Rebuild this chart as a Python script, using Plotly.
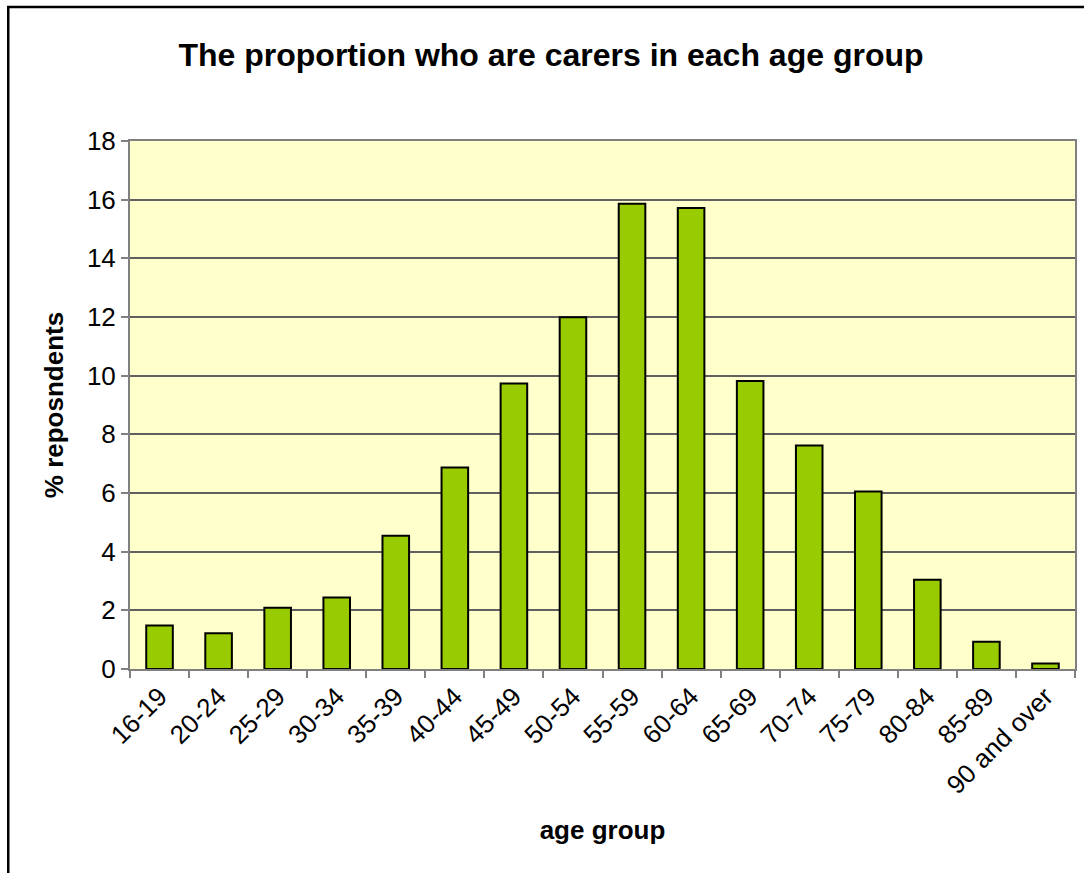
import plotly.graph_objects as go

age_groups = ["16-19", "20-24", "25-29", "30-34", "35-39", "40-44", "45-49", "50-54",
              "55-59", "60-64", "65-69", "70-74", "75-79", "80-84", "85-89", "90 and over"]
pct_respondents = [1.48, 1.22, 2.09, 2.44, 4.54, 6.87, 9.73, 11.99,
                   15.86, 15.72, 9.82, 7.62, 6.05, 3.04, 0.93, 0.19]
y_ticks = [0, 2, 4, 6, 8, 10, 12, 14, 16, 18]

W, H = 1084, 873
L, R, T, B = 130, 7, 141, 204
pw, ph = W - L - R, H - T - B

fig = go.Figure()
fig.add_trace(go.Bar(
    x=age_groups, y=pct_respondents,
    marker=dict(color="#99CC00", line=dict(color="#000000", width=2)),
))

font = "Liberation Sans, Arial, sans-serif"
fig.update_layout(
    width=W, height=H,
    margin=dict(l=L, r=R, t=T, b=B),
    paper_bgcolor="white",
    plot_bgcolor="#FFFFCC",
    bargap=0.55,
    showlegend=False,
    font=dict(family=font, color="#000000", size=24),
    title=dict(text="<b>The proportion who are carers in each age group</b>",
               x=551 / W, xanchor="center", y=1 - 55 / H, yanchor="middle",
               xref="container", yref="container",
               font=dict(family=font, size=32, color="#000000")),
)
fig.update_xaxes(
    type="category", tickson="boundaries", ticks="outside", ticklen=7,
    tickcolor="#808080", tickwidth=2, tickangle=-45,
    showgrid=False, showline=True, linecolor="#808080", linewidth=2, mirror=True,
    tickfont=dict(size=26),
    title=dict(text="<b>age group</b>", font=dict(size=26), standoff=22),
)
fig.update_yaxes(
    range=[0, 18], tickvals=y_ticks, ticks="outside", ticklen=7,
    tickcolor="#808080", tickwidth=2,
    showgrid=True, gridcolor="#606060", gridwidth=1.5,
    showline=True, linecolor="#808080", linewidth=2, mirror=True,
    zeroline=False,
    tickfont=dict(size=26),
    title=dict(text="<b>% reposndents</b>", font=dict(size=26), standoff=16),
)
# outer chart border
fig.add_shape(type="rect", xref="paper", yref="paper",
              x0=(8 - L) / pw, x1=(W + 10 - L) / pw,
              y0=-(B + 10) / ph, y1=(H - 7 - B) / ph,
              line=dict(color="#000000", width=2.5), fillcolor="rgba(0,0,0,0)",
              layer="above")

fig.write_html("out.html", config={"displayModeBar": False},
               post_script="document.body.style.margin='0';document.body.style.overflow='hidden';")
